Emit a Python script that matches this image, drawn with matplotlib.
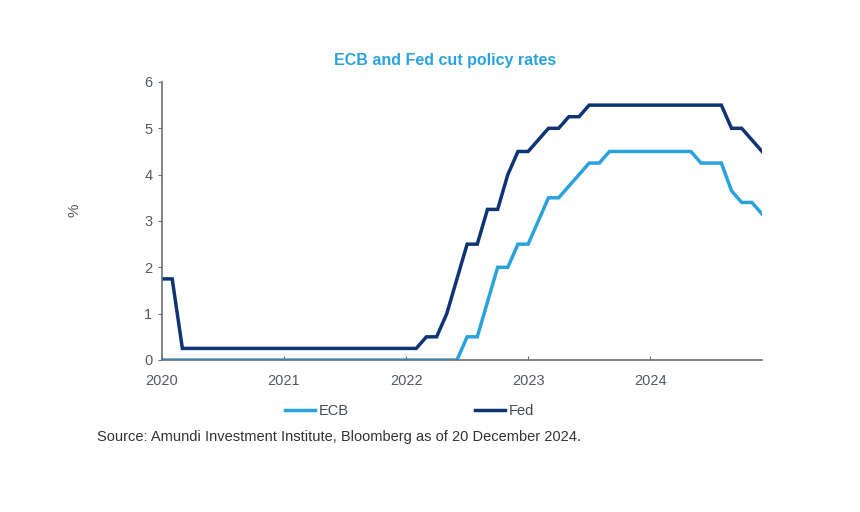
import matplotlib
matplotlib.use("Agg")
import matplotlib.pyplot as plt
import numpy as np

plt.rcParams['font.family'] = ['Liberation Sans', 'DejaVu Sans']

# monthly end-of-month rates, Jan 2020 .. Dec 2024
ecb = [0.0] * 30 + [0.5, 0.5, 1.25, 2.0, 2.0, 2.5,          # 2022 Jul..Dec
                    2.5, 3.0, 3.5, 3.5, 3.75, 4.0,          # 2023 Jan..Jun
                    4.25, 4.25, 4.5, 4.5, 4.5, 4.5,         # 2023 Jul..Dec
                    4.5, 4.5, 4.5, 4.5, 4.5, 4.25,          # 2024 Jan..Jun
                    4.25, 4.25, 3.65, 3.4, 3.4, 3.15]       # 2024 Jul..Dec
fed = [1.75, 1.75] + [0.25] * 24 + [0.5, 0.5, 1.0, 1.75,    # 2022 Mar..Jun
                                    2.5, 2.5, 3.25, 3.25, 4.0, 4.5,
                                    4.5, 4.75, 5.0, 5.0, 5.25, 5.25,
                                    5.5, 5.5, 5.5, 5.5, 5.5, 5.5,
                                    5.5, 5.5, 5.5, 5.5, 5.5, 5.5,
                                    5.5, 5.5, 5.0, 5.0, 4.75, 4.5]
years = [2020, 2021, 2022, 2023, 2024]
x = 2020 + np.arange(len(fed)) / 12.0

ECB_COL = '#2aa3dc'
FED_COL = '#0e3474'
GREY = '#555a60'

fig = plt.figure(figsize=(8.6, 5.12), dpi=100)
ax = fig.add_axes([0.1884, 0.2969, 0.6977, 0.543])

ax.plot(x, ecb, color=ECB_COL, lw=2.5, label='ECB', solid_joinstyle='miter')
ax.plot(x, fed, color=FED_COL, lw=2.5, label='Fed', solid_joinstyle='miter')

ax.set_xlim(x[0], x[-1])
ax.set_ylim(0, 6)
ax.set_xticks(years)
ax.set_xticklabels([str(y) for y in years])
ax.set_yticks(range(7))

for s in ['top', 'right']:
    ax.spines[s].set_visible(False)
for s in ['left', 'bottom']:
    ax.spines[s].set_color('#6a6f78')
    ax.spines[s].set_linewidth(1.2)
ax.tick_params(axis='y', direction='out', length=3, color='#6a6f78',
               labelcolor=GREY, labelsize=10.5, pad=4)
ax.tick_params(axis='x', direction='in', length=3, color='#6a6f78',
               labelcolor=GREY, labelsize=10.5, pad=10)

fig.text(0.0872, 0.59, '%', rotation=90, ha='center', va='center',
         color=GREY, fontsize=11)
fig.text(0.518, 0.881, 'ECB and Fed cut policy rates', ha='center',
         va='center', color=ECB_COL, fontsize=11.5, fontweight='bold')

ax.legend(loc='upper left', bbox_to_anchor=(0.183, -0.11), ncol=2,
          frameon=False, handlelength=2.05, handletextpad=0.3,
          columnspacing=8.6, fontsize=10.5, labelcolor='#444a52')

fig.text(0.113, 0.146,
         'Source: Amundi Investment Institute, Bloomberg as of 20 December 2024.',
         ha='left', va='center', color='#333333', fontsize=10.5)

fig.savefig('out.png', dpi=100, facecolor='white')
